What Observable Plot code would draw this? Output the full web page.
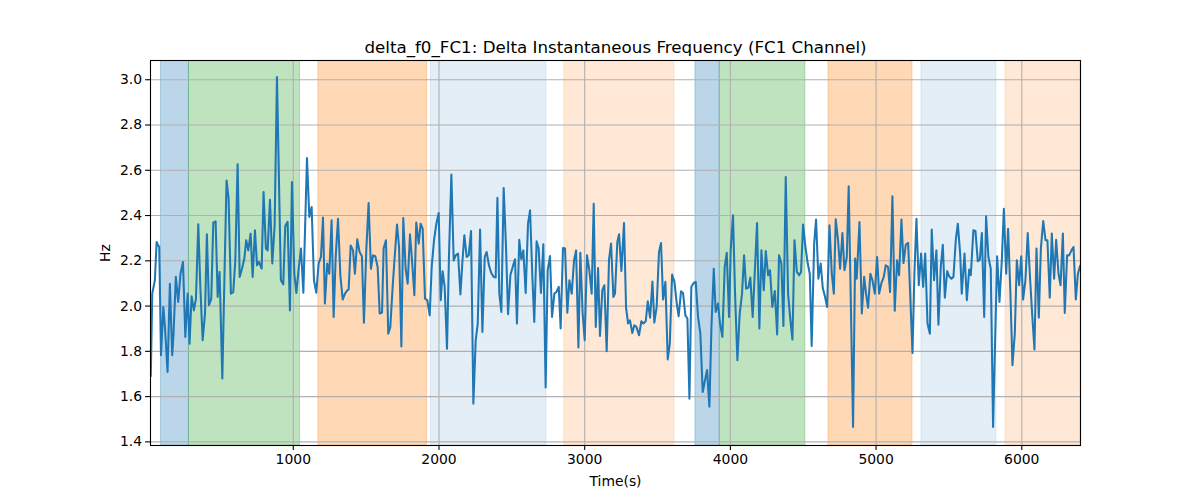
<!DOCTYPE html>
<html>
<head>
<meta charset="utf-8">
<script src="https://cdn.jsdelivr.net/npm/d3@7"></script>
<script src="https://cdn.jsdelivr.net/npm/@observablehq/plot@0.6"></script>
<style>
  html, body { margin: 0; padding: 0; background: #ffffff; }
  #chart { width: 1200px; height: 500px; }
</style>
</head>
<body>
<div id="chart"></div>
<script>
const titleText = "delta_f0_FC1: Delta Instantaneous Frequency (FC1 Channel)";
const xLabel = "Time(s)";
const yLabel = "Hz";
const xTicks = [1000, 2000, 3000, 4000, 5000, 6000];
const yTicks = [1.4, 1.6, 1.8, 2.0, 2.2, 2.4, 2.6, 2.8, 3.0];

const times = [
  22,32,50,62,73,80,92,108,119,137,153,169,178,194,210,226,243,259,275,288,302,318,332,348,362,378,394,407,421,437,451,467,481,494,513,529,542,556,572,588,602,618,632,648,664,677,691,707,721,737,751,764,783,796,812,
  824,840,856,872,888,915,931,945,961,977,991,1007,1021,1037,1053,1069,1094,1110,1126,1142,1158,1174,1190,1204,1217,1233,1247,1263,1277,1291,1307,1323,1339,1355,1371,1380,1394,1410,1423,1439,1455,1471,1485,1501,1517,1533,1547,1563,1579,1593,1609,
  1620,1636,1652,1666,1682,1696,1712,1726,1742,1755,1771,1785,1801,1815,1831,1844,1861,1874,1888,1904,1920,1936,1950,1966,1982,1998,2012,2025,2039,2055,2069,2085,2101,2115,2131,2147,2160,2174,2190,2204,2220,2236,2252,2266,2282,2298,2314,2327,2343,2359,2375,2389,2401,
  2414,2428,2444,2460,2474,2490,2506,2522,2535,2551,2565,2579,2595,2611,2625,2641,2654,2670,2684,2700,2716,2732,2746,2762,2776,2792,2806,2822,2835,2851,2865,2881,2895,2911,2927,2941,2957,2970,2986,3000,3016,3032,3048,3062,3076,3092,3105,3121,3135,3151,3167,3181,3197,
  3208,3224,3236,3252,3270,3284,3298,3311,3327,3341,3355,3373,3389,3403,3419,3433,3449,3465,3478,3494,3510,3524,3538,3554,3570,3584,3600,3616,3632,3645,3661,3675,3691,3705,3719,3732,3748,3762,3778,3794,3810,3826,3840,3856,3870,3886,3899,3915,3929,3945,3961,3975,3991,
  4002,4018,4032,4048,4064,4080,4094,4108,4124,4137,4153,4167,4183,4199,4213,4229,4243,4259,4272,4288,4305,4321,4334,4350,4364,4380,4396,4412,4426,4440,4456,4472,4485,4499,4515,4531,4545,4558,4575,4588,4604,4620,4634,4650,4664,4680,4696,4710,4723,4739,4753,4769,4783,
  4799,4812,4828,4842,4856,4867,4886,4902,4918,4931,4945,4961,4975,4991,5007,5021,5037,5053,5066,5082,5096,5112,5128,5144,5158,5174,5188,5204,5220,5250,5263,5277,5293,5309,5323,5337,5353,5369,5382,5398,5414,5428,5444,5458,5472,5488,5501,5517,5531,5547,5561,5577,5588,
  5607,5623,5639,5650,5668,5682,5698,5712,5726,5742,5755,5771,5787,5803,5831,5847,5863,5877,5893,5906,5922,5936,5952,5966,5982,5996,6009,6025,6041,6055,6071,6087,6101,6117,6131,6147,6163,6176,6192,6206,6222,6236,6252,6266,6282,6295,6311,6325,6341,6355,6371,6385,6398,6403
];

const hz = [
  1.69,2.055,2.114,2.283,2.268,2.261,1.783,1.996,1.908,1.709,2.099,1.783,1.878,2.129,2.018,2.143,2.195,1.864,2.055,1.834,2.043,1.981,2.033,2.361,2.085,1.849,1.967,2.317,2.004,2.033,2.369,2.374,2.040,2.151,1.680,2.173,2.555,2.475,2.055,2.062,2.202,2.626,2.129,2.165,2.210,2.291,2.246,2.320,2.129,2.335,2.180,2.195,2.165,2.504,2.254,
  2.246,2.470,2.188,2.357,3.012,2.114,2.096,2.354,2.372,1.981,2.548,2.143,2.058,2.165,2.254,2.059,2.654,2.394,2.438,2.114,2.059,2.188,2.217,2.391,2.011,2.188,2.143,2.379,1.952,2.217,2.386,2.136,2.029,2.055,2.070,2.073,2.268,2.246,2.143,2.295,2.239,2.220,1.926,2.246,2.455,2.165,2.224,2.220,2.173,1.967,1.971,
  2.254,2.291,1.878,1.908,2.085,2.217,2.360,2.261,1.822,2.389,2.165,2.099,2.317,2.202,2.048,2.369,2.276,2.364,2.342,2.033,2.026,1.959,2.173,2.291,2.364,2.411,2.026,2.154,2.085,1.812,2.232,2.581,2.202,2.224,2.232,2.051,2.188,2.313,2.217,2.224,2.332,1.569,1.849,1.923,2.338,1.886,2.217,2.239,2.180,2.146,2.129,2.126,2.479,
  2.055,1.974,2.522,2.261,1.964,2.136,2.173,2.207,1.923,2.293,2.207,2.246,2.058,2.364,2.423,2.129,1.930,2.286,2.254,2.058,2.273,1.640,2.158,2.221,1.952,2.055,2.062,2.085,1.901,2.257,2.254,1.971,2.114,2.055,2.202,2.246,1.817,2.236,1.967,1.849,2.224,2.158,2.055,2.452,1.908,2.168,1.868,2.070,2.092,1.800,2.205,2.276,2.040,
  2.055,2.283,2.317,2.155,2.367,1.993,1.923,1.937,1.881,1.915,1.908,1.871,1.933,1.923,1.933,2.021,1.949,2.108,1.927,1.996,2.239,2.279,2.029,2.107,1.764,1.834,2.139,2.107,2.011,1.955,2.065,2.058,1.959,1.945,1.591,2.085,2.102,2.107,1.952,1.878,1.620,1.672,1.717,1.555,1.908,2.165,1.974,2.011,1.923,1.864,2.173,2.235,1.952,
  2.246,2.401,2.055,1.761,1.967,2.055,2.224,2.077,2.082,2.126,1.952,2.143,2.367,1.901,2.246,2.070,2.243,2.136,2.158,1.996,2.067,1.875,2.224,2.188,1.912,2.570,2.055,1.937,1.852,2.291,2.151,2.136,2.151,2.360,2.261,2.188,2.143,1.824,2.276,2.382,2.121,2.188,2.080,2.040,1.996,2.357,2.143,2.055,2.383,2.291,2.165,2.323,2.158,
  2.217,2.529,1.967,1.466,2.210,2.121,2.371,1.967,2.129,2.055,1.993,2.143,2.114,2.055,2.217,2.055,2.102,2.129,2.180,2.173,2.062,2.485,1.979,2.202,2.136,2.382,2.190,2.271,2.279,1.793,2.143,2.386,2.092,2.232,2.085,2.232,1.923,1.878,2.338,2.114,2.246,1.918,2.173,2.271,2.037,2.155,2.132,2.121,2.129,2.291,2.364,2.232,2.055,
  2.232,2.026,2.161,2.136,2.335,2.332,2.198,2.205,2.323,1.952,2.397,2.217,2.165,1.466,2.220,2.018,2.202,2.430,2.143,2.342,2.055,1.739,1.878,2.202,2.092,2.220,2.029,2.114,2.323,2.143,1.967,1.808,2.254,1.949,2.254,2.376,2.291,2.291,2.037,2.320,2.121,2.293,2.143,2.092,2.320,1.970,2.224,2.224,2.246,2.261,2.029,2.143,2.173,2.18
];

const spanStart = [92, 284, 1172, 1945, 2860, 3760, 3927, 4673, 5311, 5888];
const spanEnd   = [284, 1046, 1918, 2737, 3616, 3927, 4515, 5250, 5826, 6403];
const spanColor = ["#1f77b4","#2ca02c","#ff7f0e","#1f77b4","#ff7f0e","#1f77b4","#2ca02c","#ff7f0e","#1f77b4","#ff7f0e"];
const spanOpacity = [0.3, 0.3, 0.3, 0.12, 0.17, 0.3, 0.3, 0.3, 0.12, 0.17];

const series = times.map((t, i) => ({t, v: hz[i]}));
const spans = spanStart.map((s, i) => ({x1: s, x2: spanEnd[i], c: spanColor[i], o: spanOpacity[i]}));

const chart = Plot.plot({
  width: 1200,
  height: 500,
  marginLeft: 150,
  marginRight: 120,
  marginTop: 60,
  marginBottom: 55,
  style: {fontFamily: "DejaVu Sans", fontSize: "13.9px", color: "black", background: "white"},
  x: {domain: [20, 6403]},
  y: {domain: [1.384, 3.085]},
  marks: [
    ...spans.map(s => Plot.rect([s], {x1: "x1", x2: "x2", fill: s.c, fillOpacity: s.o, stroke: s.c, strokeOpacity: s.o, strokeWidth: 1, clip: true})),
    Plot.gridX(xTicks, {stroke: "#b0b0b0", strokeOpacity: 1, strokeWidth: 1.1}),
    Plot.gridY(yTicks, {stroke: "#b0b0b0", strokeOpacity: 1, strokeWidth: 1.1}),
    Plot.line(series, {x: "t", y: "v", stroke: "#1f77b4", strokeWidth: 2.05, clip: true}),
    Plot.frame({stroke: "black", strokeWidth: 1.1}),
    Plot.axisX(xTicks, {tickSize: 4.9, tickPadding: 3.5, strokeWidth: 1.1, tickFormat: d3.format("d"), label: xLabel, labelAnchor: "center", labelArrow: "none", labelOffset: 40}),
    Plot.axisY(yTicks, {tickSize: 4.9, tickPadding: 3.5, strokeWidth: 1.1, tickFormat: d3.format(".1f"), label: yLabel, labelAnchor: "center", labelArrow: "none", labelOffset: 50}),
    Plot.text([titleText], {frameAnchor: "top", lineAnchor: "bottom", dy: -8, fontSize: 16.7, fill: "black"})
  ]
});
document.getElementById("chart").appendChild(chart);
</script>
</body>
</html>
